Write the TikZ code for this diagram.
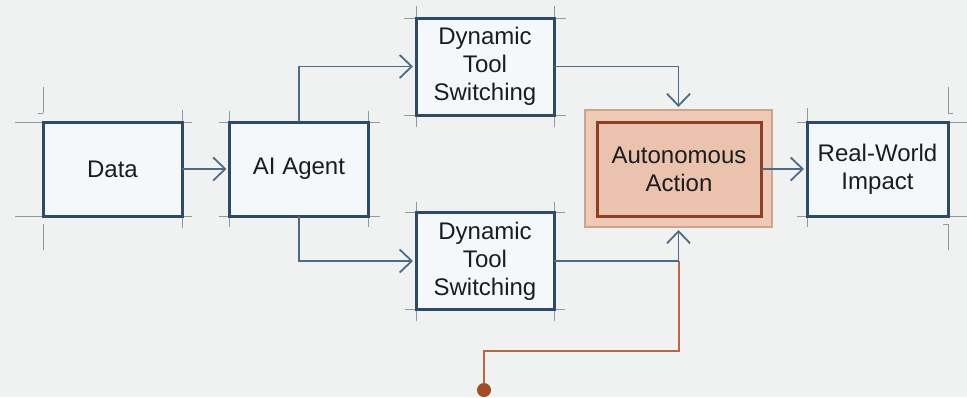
\documentclass[tikz,border=0pt]{standalone}
\usepackage{fontspec}
\setmainfont{Liberation Sans}
\usetikzlibrary{arrows.meta,backgrounds}

\definecolor{bg}{HTML}{F0F2F1}
\definecolor{boxline}{HTML}{2F4A66}
\definecolor{boxfill}{HTML}{F5F8FA}
\definecolor{wire}{HTML}{4D6B88}
\definecolor{guide}{HTML}{8E99A4}
\definecolor{actfill}{HTML}{EDC9B6}
\definecolor{actedge}{HTML}{D0A48C}
\definecolor{actinner}{HTML}{EAC2AD}
\definecolor{actline}{HTML}{8E3E22}
\definecolor{feed}{HTML}{B46A44}
\definecolor{feeddot}{HTML}{A34C26}
\definecolor{ink}{HTML}{1C1C1C}

% extend the four edges of a box past its corners
\newcommand\boxguides[2]{%
  \draw[guide] ([xshift=-#2]#1.north west) -- ([xshift=#2]#1.north east);
  \draw[guide] ([xshift=-#2]#1.south west) -- ([xshift=#2]#1.south east);
  \draw[guide] ([yshift=#2]#1.north west) -- ([yshift=-#2]#1.south west);
  \draw[guide] ([yshift=#2]#1.north east) -- ([yshift=-#2]#1.south east);
}

\begin{document}
\begin{tikzpicture}[x=1pt,y=-1pt,
  every node/.style={font=\fontsize{24}{28}\selectfont, text=ink, align=center},
  blockbox/.style={draw=boxline, line width=3pt, fill=boxfill,
    minimum width=139pt, minimum height=94pt, inner sep=0pt, outer sep=0pt},
  actouter/.style={draw=actedge, line width=1.6pt, fill=actfill,
    minimum width=187pt, minimum height=117pt, inner sep=0pt, outer sep=0pt},
  actbox/.style={draw=actline, line width=3pt, fill=actinner,
    minimum width=164pt, minimum height=94pt, inner sep=0pt, outer sep=0pt},
  wire/.style={draw=wire, line width=1.8pt,
    -{Straight Barb[length=12pt,width=23pt,line width=1.8pt]}, shorten >=3pt},
  feedline/.style={draw=feed, line width=2pt},
  guide/.style={draw=guide, line width=0.9pt},
]
\useasboundingbox (0,0) rectangle (967,397);

% blocks
\node[blockbox] (data)  at (112.5,169) {Data};
\node[blockbox] (agent) at (299,169) {AI Agent};
\node[blockbox, minimum width=138pt, minimum height=97pt] (dts1) at (485,66.5)
  {Dynamic\\Tool\\Switching};
\node[blockbox, minimum width=138pt, minimum height=97pt] (dts2) at (485,261)
  {Dynamic\\Tool\\Switching};
\node[actouter] (act) at (678.5,168.5) {};
\node[actbox] (actin) at (679,169) {Autonomous\\Action};
\node[blockbox, minimum width=141pt] (real) at (877.5,169) {Real-World\\Impact};

% paper and construction guides, kept behind the blocks
\begin{scope}[on background layer]
\fill[bg] (0,0) rectangle (967,397);
\draw[guide] ([xshift=-28pt]data.north west) -- ([xshift=10pt]data.north east);
\draw[guide] ([xshift=-28pt]data.south west) -- ([xshift=10pt]data.south east);
\draw[guide] ([yshift=12pt]data.north east) -- ([yshift=-12pt]data.south east);
\draw[guide] ([yshift=9pt]data.north west) -- ([yshift=35pt]data.north west);
\draw[guide] ([xshift=-5pt,yshift=9pt]data.north west) -- ([yshift=9pt]data.north west);
\draw[guide] ([yshift=-8pt]data.south west) -- ([yshift=-34pt]data.south west);
\boxguides{agent}{11pt}
\boxguides{dts1}{12pt}
\boxguides{dts2}{11pt}
\draw[guide] ([xshift=-10pt]real.north west) -- ([xshift=19pt]real.north east);
\draw[guide] ([xshift=-10pt]real.south west) -- ([xshift=19pt]real.south east);
\draw[guide] ([yshift=14pt]real.north west) -- ([yshift=-11pt]real.south west);
\draw[guide] ([yshift=9pt]real.north east) -- ([yshift=35pt]real.north east);
\draw[guide] ([xshift=5pt,yshift=9pt]real.north east) -- ([yshift=9pt]real.north east);
\draw[guide] ([yshift=-8pt]real.south east) -- ([yshift=-34pt]real.south east);
\draw[guide] ([xshift=-5pt,yshift=-8pt]real.south east) -- ([yshift=-8pt]real.south east);
\end{scope}

% feedback line rising into the lower input of the action block
\coordinate (src) at (484,390);
\coordinate (fb) at (678.5,351);
\draw[feedline] (src) |- (fb) -- (act.south |- dts2.east);
\fill[feeddot] (src) circle (7);

% flow connectors
\draw[wire] (data.east) -- (agent.west);
\draw[wire] (agent.north) |- (dts1.west);
\draw[wire] (agent.south) |- (dts2.west);
\draw[wire] (dts1.east) -| (act.north);
\draw[wire] (dts2.east) -| (act.south);
\draw[wire] (actin.east) -- (real.west);
\end{tikzpicture}
\end{document}
